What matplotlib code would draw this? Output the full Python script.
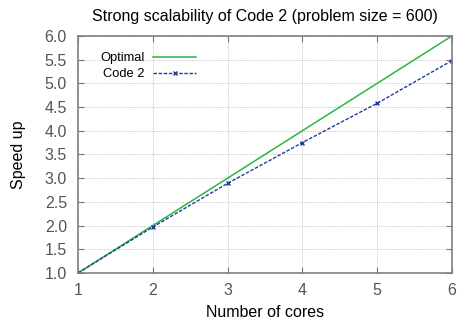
import matplotlib
matplotlib.use("Agg")
import matplotlib.pyplot as plt

cores = [1, 2, 3, 4, 5, 6]
optimal = [1, 2, 3, 4, 5, 6]
code2 = [1.0, 1.97, 2.89, 3.75, 4.58, 5.48]

plt.rcParams['font.family'] = ['Liberation Sans', 'DejaVu Sans']
fs = 11.5

fig = plt.figure(figsize=(4.59, 3.2), dpi=100)
ax = fig.add_axes([0.170, 0.147, 0.815, 0.741])

ax.plot(cores, optimal, color='#2ab640', lw=1.1, label='Optimal')
ax.plot(cores, code2, color='#1f3c9c', lw=1.0, ls=(0, (2.5, 1.2)),
        marker='x', ms=3.5, mew=1.0, label='Code 2')

ax.set_xlim(1, 6)
ax.set_ylim(1.0, 6.0)
ax.set_xticks(cores)
ax.set_yticks([1.0 + 0.5 * i for i in range(11)])
ax.set_yticklabels(['%.1f' % (1.0 + 0.5 * i) for i in range(11)])
ax.grid(True, color='#bbbbbb', ls=(0, (1, 1.2)), lw=0.6)
ax.tick_params(direction='in', length=4, colors='#777777', labelcolor='#555555',
               labelsize=fs, top=True, right=True)
ax.tick_params(axis='x', pad=7)
ax.tick_params(axis='y', pad=8)
for s in ax.spines.values():
    s.set_color('#808080')
    s.set_linewidth(1.2)

ax.set_title('Strong scalability of Code 2 (problem size = 600)', fontsize=fs, pad=11)
ax.set_xlabel('Number of cores', fontsize=fs, labelpad=5.5)
ax.set_ylabel('Speed up', fontsize=fs, labelpad=13)

leg = ax.legend(loc='upper left', frameon=False, markerfirst=False,
                handlelength=3.3, handletextpad=0.7, labelspacing=0.3,
                borderpad=0, borderaxespad=0,
                bbox_to_anchor=(0.059, 0.93), fontsize=9.3)

fig.savefig('out.png', dpi=100)
